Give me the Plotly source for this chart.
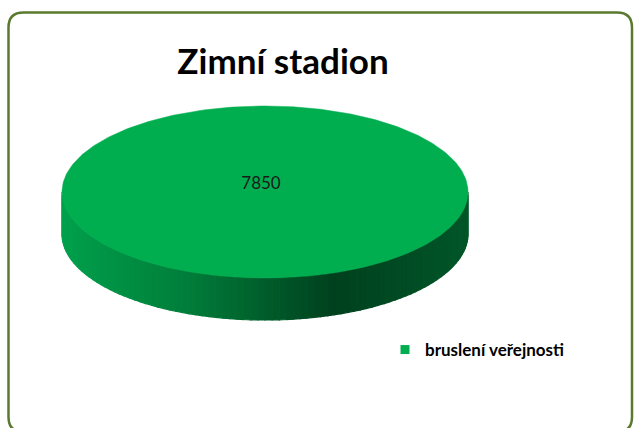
import numpy as np
import plotly.graph_objects as go

# ---- data ----
title_text = "Zimní stadion"
categories = ["bruslení veřejnosti"]
values = [7850]
slice_colors = ["#00AE50"]

# ---- geometry (pixel space of the 636x428 canvas) ----
W, H = 636, 428
CX, CY = 265, 192       # centre of pie top face
RX, RY = 203, 86        # radii of the tilted pie
DEPTH = 42              # 3D thickness

fig = go.Figure()

total = float(sum(values))
fracs = [v / total for v in values]

# side gradient colour stops (fraction across width from left -> rgb)
stops = [(0.0, (0, 160, 76)), (0.3, (0, 126, 58)), (0.67, (0, 64, 30)), (1.0, (0, 86, 40))]


def side_color(t):
    for (t0, c0), (t1, c1) in zip(stops[:-1], stops[1:]):
        if t0 <= t <= t1:
            u = (t - t0) / (t1 - t0)
            return "rgb(%d,%d,%d)" % tuple(round(a + (b - a) * u) for a, b in zip(c0, c1))
    return "rgb(%d,%d,%d)" % stops[-1][1]


start = 0.0
for cat, f, col in zip(categories, fracs, slice_colors):
    a0, a1 = start, start + f * 2 * np.pi
    start = a1
    # visible side wall: lower half (screen y down => angles 0..pi)
    lo, hi = max(a0, 0.0), min(a1, np.pi)
    if hi > lo:
        n = 90
        th = np.linspace(lo, hi, n + 1)
        for i in range(n):
            t1, t2 = th[i], th[i + 1]
            x1, x2 = CX + RX * np.cos(t1), CX + RX * np.cos(t2)
            y1, y2 = CY + RY * np.sin(t1), CY + RY * np.sin(t2)
            xm = (x1 + x2) / 2
            c = side_color((xm - (CX - RX)) / (2 * RX))
            fig.add_trace(go.Scatter(
                x=[x1, x2, x2, x1, x1], y=[y1, y2, y2 + DEPTH, y1 + DEPTH, y1],
                fill="toself", fillcolor=c, mode="lines", line=dict(width=1.2, color=c),
                hoverinfo="skip", showlegend=False))
    # top face
    th = np.linspace(a0, a1, 361)
    xs = CX + RX * np.cos(th)
    ys = CY + RY * np.sin(th)
    if f < 1:
        xs = np.concatenate([[CX], xs, [CX]])
        ys = np.concatenate([[CY], ys, [CY]])
    fig.add_trace(go.Scatter(x=xs, y=ys, fill="toself", fillcolor=col, mode="lines",
                             line=dict(width=0.5, color=col), hoverinfo="skip", showlegend=False))
    # legend entry
    fig.add_trace(go.Scatter(x=[None], y=[None], mode="markers", name=cat,
                             marker=dict(symbol="square", size=9, color=col)))

# data labels
start = 0.0
for v, f in zip(values, fracs):
    mid = start + f * np.pi
    start += f * 2 * np.pi
    if f >= 1:
        lx, ly = CX - 4, CY - 7
    else:
        lx, ly = CX + 0.6 * RX * np.cos(mid), CY + 0.6 * RY * np.sin(mid)
    fig.add_trace(go.Scatter(x=[lx], y=[ly], mode="text", text=[str(v)],
                             textfont=dict(family="Lato", size=17, color="#1a1a1a"),
                             hoverinfo="skip", showlegend=False))

# rounded border (bottom edge falls just below the canvas)
x0, y0, x1, y1, r = 8.5, 12.5, 632, 432, 15
path = (f"M {x0+r},{y0} L {x1-r},{y0} Q {x1},{y0} {x1},{y0+r} L {x1},{y1-r} "
        f"Q {x1},{y1} {x1-r},{y1} L {x0+r},{y1} Q {x0},{y1} {x0},{y1-r} "
        f"L {x0},{y0+r} Q {x0},{y0} {x0+r},{y0} Z")

fig.update_layout(
    width=W, height=H,
    margin=dict(l=0, r=0, t=0, b=0),
    paper_bgcolor="white", plot_bgcolor="white",
    xaxis=dict(range=[0, W], visible=False, fixedrange=True),
    yaxis=dict(range=[H, 0], visible=False, fixedrange=True),
    shapes=[dict(type="path", path=path, xref="x", yref="y",
                 line=dict(color="#5B7A30", width=2.5), layer="above")],
    title=dict(text=title_text, x=283 / W, y=1 - 62 / H, xanchor="center", yanchor="middle",
               font=dict(family="Lato", size=35, color="black", weight="bold")),
    legend=dict(x=385 / W, y=1 - 350 / H, xanchor="left", yanchor="middle",
                font=dict(family="Lato", size=17, color="black", weight="bold"),
                bgcolor="rgba(0,0,0,0)", itemwidth=30),
    showlegend=True,
)

fig.write_html("out.html", config={"displayModeBar": False},
               post_script="document.body.style.margin='0';")
